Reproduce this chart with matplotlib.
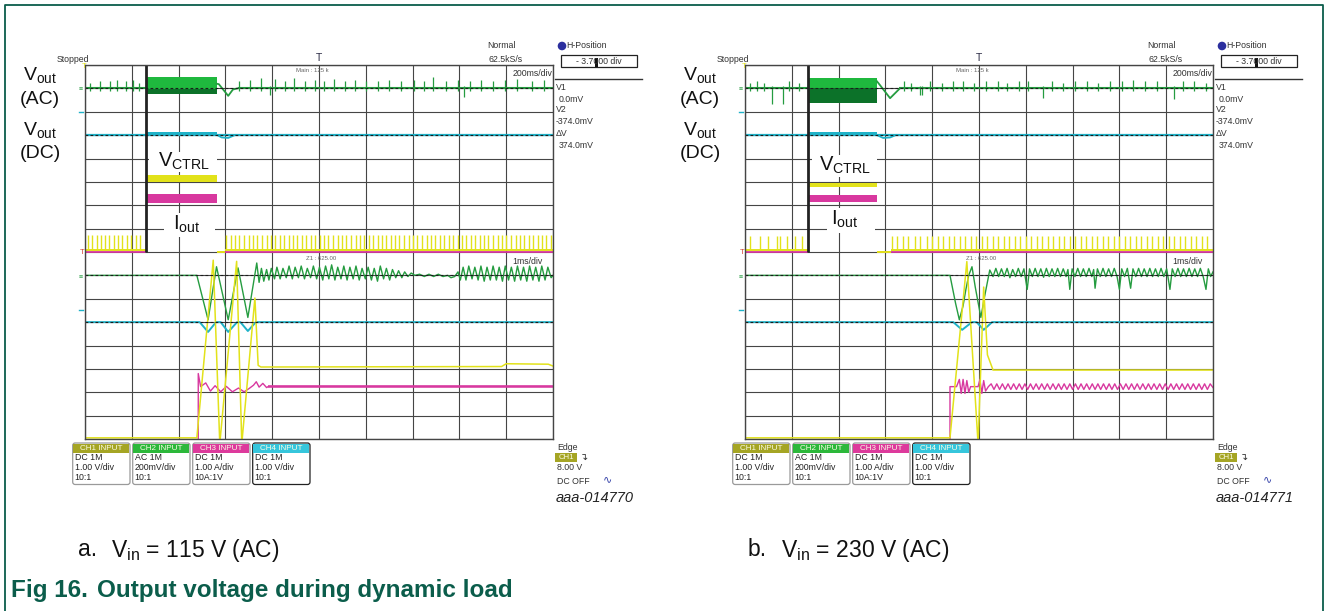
import matplotlib.pyplot as plt
from matplotlib.patches import Rectangle, FancyBboxPatch, Circle

plt.rcParams["font.family"] = ["Liberation Sans", "DejaVu Sans"]

W, H = 1328, 611

# ------------------------------------------------------------------
# data - scope screen in divisions: x 0..10, y 0..16 counted from top
# rows 0-8: main window (200 ms/div), rows 8-16: zoom window (1 ms/div)
# ------------------------------------------------------------------
panel_tags = ["a.", "b."]
vin_values = ["115", "230"]
chart_codes = ["aaa-014770", "aaa-014771"]

channel_names = ["CH1 INPUT", "CH2 INPUT", "CH3 INPUT", "CH4 INPUT"]
channel_coupling = ["DC 1M", "AC 1M", "DC 1M", "DC 1M"]
channel_scale = ["1.00 V/div", "200mV/div", "1.00 A/div", "1.00 V/div"]
channel_probe = ["10:1", "10:1", "10A:1V", "10:1"]

cursor_levels = [1, 3, 9, 11]
cursor_text = ["V1", "0.0mV", "V2", "-374.0mV", "\u0394V", "374.0mV"]

# ---- a. Vin = 115 V ----
a_load = [1.30, 2.81]
a_marker = 1.30
a_ac_base = 1.0
a_ac_band = [0.50, 1.02, 1.22]
a_ac_spike_x = [0.10, 0.33, 0.53, 0.69, 0.87, 1.03, 1.16,
                3.30, 3.53, 3.75, 3.95, 4.06, 4.28, 4.47, 4.70, 4.92, 5.10,
                5.32, 5.55, 5.77, 6.00, 6.25, 6.49, 6.75, 7.03, 7.25, 7.44,
                7.71, 7.98, 8.10, 8.22, 8.47, 8.72, 8.97, 9.24, 9.55, 9.80]
a_ac_spike_h = [0.25, 0.30, 0.30, 0.35, 0.30, 0.35, 0.25,
                0.30, 0.35, 0.45, -0.30, 0.40, 0.30, 0.45, 0.30, 0.35, 0.30,
                0.40, 0.30, 0.35, 0.30, 0.30, 0.35, 0.30, 0.35, 0.30, 0.50,
                0.30, 0.35, -0.35, 0.30, 0.35, 0.30, 0.35, 0.40, 0.30, 0.35]
a_ac_recover_x = [2.81, 2.86, 3.06, 3.16, 3.26]
a_ac_recover_y = [0.80, 0.82, 1.32, 1.05, 1.00]
a_dc_base = 3.0
a_dc_band = [2.86, 3.02]
a_dc_recover_x = [2.81, 2.92, 3.06, 3.20]
a_dc_recover_y = [2.98, 3.10, 3.12, 3.00]
a_ctrl_base = 7.90
a_ctrl_top = 7.28
a_ctrl_band = [4.70, 5.00]
a_ctrl_gap = [2.81, 3.00, 7.98]
a_ctrl_spike_x = [0.06, 0.15, 0.25, 0.34, 0.43, 0.52, 0.62, 0.71, 0.80, 0.90, 0.99, 1.08, 1.17,
                  3.02, 3.12, 3.21, 3.30, 3.40, 3.50, 3.59, 3.68, 3.78, 3.88, 3.97, 4.06,
                  4.16, 4.26, 4.35, 4.44, 4.54, 4.64, 4.73, 4.82, 4.92, 5.02, 5.11, 5.20,
                  5.30, 5.40, 5.49, 5.58, 5.68, 5.78, 5.87, 5.96, 6.06, 6.16, 6.25, 6.34,
                  6.44, 6.54, 6.63, 6.72, 6.82, 6.92, 7.01, 7.10, 7.20, 7.30, 7.39, 7.48,
                  7.58, 7.68, 7.77, 7.86, 7.96, 8.06, 8.15, 8.24, 8.34, 8.44, 8.53, 8.62,
                  8.72, 8.82, 8.91, 9.00, 9.10, 9.20, 9.29, 9.38, 9.48, 9.58, 9.67, 9.76,
                  9.86, 9.95]
a_iout_base = 7.98
a_iout_band = [5.50, 5.90]

a_zoom_ac = [(0.00, 9.00), (2.39, 9.00), (2.63, 10.90), (2.81, 8.63), (3.06, 10.90),
             (3.27, 8.68), (3.48, 10.80), (3.67, 8.47),
             (3.72, 9.30), (3.77, 8.70), (3.82, 9.25), (3.88, 8.75), (3.93, 9.20), (3.98, 8.70),
             (4.05, 9.15), (4.10, 8.65), (4.17, 9.15), (4.23, 8.70), (4.30, 9.10), (4.36, 8.60),
             (4.43, 9.15), (4.49, 8.65), (4.56, 9.10), (4.62, 8.60), (4.69, 9.15), (4.75, 8.70),
             (4.82, 9.10), (4.88, 8.60), (4.95, 9.15), (5.01, 8.65), (5.08, 9.20), (5.14, 8.60),
             (5.21, 9.15), (5.27, 8.55), (5.34, 9.20), (5.40, 8.65), (5.47, 9.15), (5.53, 8.60),
             (5.60, 9.20), (5.66, 8.65), (5.73, 9.15), (5.79, 8.60), (5.86, 9.20), (5.92, 8.70),
             (5.99, 9.15), (6.05, 8.65), (6.12, 9.20), (6.18, 8.70), (6.25, 9.25), (6.31, 8.60),
             (6.38, 9.15), (6.44, 8.70), (6.51, 9.20), (6.57, 8.75), (6.64, 9.10), (6.70, 8.80),
             (6.77, 9.10), (6.83, 8.85), (6.90, 9.05), (6.97, 8.90), (7.05, 9.00), (7.15, 8.95),
             (7.25, 9.05), (7.35, 8.95), (7.45, 9.05), (7.55, 8.95), (7.65, 9.05), (7.75, 9.00),
             (7.82, 9.10), (7.90, 9.05), (7.97, 8.85), (8.02, 9.20), (8.08, 8.65), (8.14, 9.20),
             (8.20, 8.60), (8.27, 9.15), (8.33, 8.65), (8.40, 9.20), (8.46, 8.60), (8.53, 9.25),
             (8.59, 8.65), (8.66, 9.20), (8.72, 8.60), (8.79, 9.20), (8.85, 8.65), (8.92, 9.25),
             (8.98, 8.60), (9.05, 9.20), (9.11, 8.65), (9.18, 9.25), (9.24, 8.60), (9.31, 9.20),
             (9.37, 8.65), (9.44, 9.25), (9.50, 8.60), (9.57, 9.20), (9.63, 8.65), (9.70, 9.25),
             (9.76, 8.60), (9.83, 9.20), (9.89, 8.65), (9.96, 9.10), (10.00, 9.00)]
a_zoom_dc = [(0.00, 11.0), (2.45, 11.0), (2.63, 11.42), (2.80, 11.0), (2.90, 11.0),
             (3.06, 11.42), (3.25, 11.0), (3.32, 11.0), (3.48, 11.38), (3.65, 11.0), (10.0, 11.0)]
a_zoom_ctrl = [(0.00, 15.95), (2.39, 15.95), (2.74, 8.35), (2.88, 16.2), (3.24, 8.40),
               (3.35, 16.2), (3.63, 9.97), (3.70, 12.85), (3.76, 12.92), (8.90, 12.90),
               (9.00, 12.78), (9.90, 12.80), (10.0, 12.88)]
a_zoom_iout = [(2.42, 16.0), (2.42, 13.20), (2.47, 13.76), (2.58, 13.60), (2.68, 13.95),
               (2.78, 13.72), (2.90, 13.98), (3.02, 13.75), (3.15, 13.98), (3.28, 13.82),
               (3.40, 13.98), (3.50, 13.85), (3.60, 13.70), (3.66, 13.55), (3.72, 13.78),
               (3.80, 13.62), (3.88, 13.80), (3.92, 13.75), (10.0, 13.75)]
a_zoom_iout_noise = [3.90, 10.0, 13.67, 13.83]

# ---- b. Vin = 230 V ----
b_load = [1.35, 2.82]
b_marker = 1.34
b_ac_base = 1.0
b_ac_band = [0.55, 1.00, 1.64]
b_ac_spike_x = [0.10, 0.25, 0.40, 0.57, 0.81, 0.95, 1.15,
                3.40, 3.55, 3.74, 3.78, 3.95, 4.20, 4.45, 4.65, 4.90, 5.15,
                5.40, 5.60, 5.85, 6.05, 6.37, 6.55, 6.80, 7.05, 7.30, 7.55,
                7.80, 8.05, 8.30, 8.55, 8.80, 9.16, 9.35, 9.60, 9.85]
b_ac_spike_h = [0.25, 0.30, 0.25, -0.68, -0.68, 0.30, 0.25,
                0.30, 0.25, -0.30, -0.30, 0.30, 0.25, 0.30, 0.30, 0.25, 0.30,
                0.30, 0.25, 0.30, 0.30, -0.40, 0.30, 0.25, 0.30, 0.30, 0.25,
                0.30, 0.30, 0.35, 0.30, 0.30, -0.45, 0.30, 0.30, 0.25]
b_ac_recover_x = [2.82, 2.88, 3.10, 3.30]
b_ac_recover_y = [0.70, 0.85, 1.42, 1.02]
b_dc_base = 3.0
b_dc_band = [2.85, 3.05]
b_dc_recover_x = [2.82, 2.95, 3.10, 3.22]
b_dc_recover_y = [3.00, 3.12, 3.10, 3.00]
b_ctrl_base = 7.90
b_ctrl_top = 7.30
b_ctrl_band = [5.03, 5.20]
b_ctrl_gap = [2.82, 3.12, 7.98]
b_ctrl_spike_x = [0.11, 0.32, 0.49, 0.68, 0.75, 0.90, 1.07, 1.22,
                  3.14, 3.25, 3.38, 3.48, 3.63, 3.74, 3.89, 4.00, 4.12, 4.24, 4.36, 4.47,
                  4.59, 4.71, 4.83, 4.94, 5.06, 5.18, 5.30, 5.41, 5.53, 5.65, 5.77, 5.88,
                  6.00, 6.12, 6.24, 6.35, 6.47, 6.59, 6.71, 6.82, 6.94, 7.06, 7.18, 7.29,
                  7.41, 7.53, 7.65, 7.76, 7.88, 8.00, 8.12, 8.23, 8.35, 8.47, 8.59, 8.70,
                  8.82, 8.94, 9.06, 9.17, 9.29, 9.41, 9.53, 9.64, 9.76, 9.88]
b_iout_base = 7.98
b_iout_band = [5.56, 5.88]

b_zoom_ac = [(0.00, 9.00), (4.38, 9.00), (4.50, 10.20), (4.58, 10.90), (4.66, 10.30),
             (4.72, 9.60), (4.78, 9.00), (4.85, 8.63), (4.92, 9.50), (5.04, 10.80),
             (5.12, 9.90), (5.23, 8.77), (5.30, 9.05),
             (5.36, 8.70), (5.42, 9.05), (5.48, 8.72), (5.54, 9.05), (5.60, 8.70), (5.66, 9.10),
             (5.72, 8.75), (5.78, 9.05), (5.84, 8.70), (5.90, 9.05), (5.96, 8.72), (6.03, 9.60),
             (6.08, 8.72), (6.14, 9.05), (6.20, 8.70), (6.26, 9.05), (6.32, 8.72), (6.38, 9.08),
             (6.44, 8.70), (6.50, 9.05), (6.56, 8.72), (6.62, 9.05), (6.68, 8.70), (6.74, 9.05),
             (6.80, 8.72), (6.86, 9.05), (6.90, 8.75), (6.94, 9.60), (6.99, 8.72), (7.05, 9.05),
             (7.11, 8.70), (7.17, 9.05), (7.23, 8.72), (7.29, 9.05), (7.35, 8.70), (7.41, 9.05),
             (7.45, 8.75), (7.48, 9.55), (7.53, 8.72), (7.59, 9.05), (7.65, 8.70), (7.71, 9.05),
             (7.77, 8.72), (7.83, 9.05), (7.89, 8.70), (7.95, 9.05), (8.00, 9.60), (8.05, 8.72),
             (8.11, 9.05), (8.17, 8.70), (8.24, 9.55), (8.29, 8.72), (8.35, 9.05), (8.41, 8.70),
             (8.47, 9.05), (8.53, 8.72), (8.59, 9.05), (8.65, 8.70), (8.71, 9.05), (8.77, 8.72),
             (8.83, 9.05), (8.89, 8.70), (8.95, 9.05), (9.01, 8.72), (9.08, 9.60), (9.13, 8.72),
             (9.19, 9.05), (9.25, 8.70), (9.31, 9.05), (9.37, 8.72), (9.43, 9.05), (9.49, 8.70),
             (9.55, 9.05), (9.61, 8.72), (9.67, 9.05), (9.73, 8.70), (9.79, 9.05), (9.85, 9.60),
             (9.90, 8.72), (9.95, 9.05), (10.0, 8.85)]
b_zoom_dc = [(0.00, 11.0), (4.45, 11.0), (4.64, 11.33), (4.85, 11.0), (4.95, 11.0),
             (5.10, 11.33), (5.28, 11.0), (10.0, 11.0)]
b_zoom_ctrl = [(0.00, 15.95), (4.38, 15.95), (4.74, 8.41), (4.98, 16.2), (5.10, 9.50),
               (5.18, 12.40), (5.30, 13.05), (10.0, 13.05)]
b_zoom_iout = [(4.38, 16.0), (4.38, 13.76), (4.52, 13.76), (4.58, 13.45), (4.62, 14.05),
               (4.66, 13.45), (4.70, 14.05), (4.74, 13.50), (4.78, 14.00), (4.82, 13.76),
               (4.98, 13.76), (5.02, 13.45), (5.06, 14.05), (5.10, 13.50), (5.14, 13.95),
               (5.20, 13.76),
               (5.26, 13.64), (5.32, 13.88), (5.38, 13.64), (5.44, 13.88), (5.50, 13.64),
               (5.56, 13.88), (5.62, 13.64), (5.68, 13.88), (5.74, 13.64), (5.80, 13.88),
               (5.86, 13.64), (5.92, 13.88), (5.98, 13.64), (6.04, 13.88), (6.10, 13.64),
               (6.16, 13.88), (6.22, 13.64), (6.28, 13.88), (6.34, 13.64), (6.40, 13.88),
               (6.46, 13.64), (6.52, 13.88), (6.58, 13.64), (6.64, 13.88), (6.70, 13.64),
               (6.76, 13.88), (6.82, 13.64), (6.88, 13.88), (6.94, 13.64), (7.00, 13.88),
               (7.06, 13.64), (7.12, 13.88), (7.18, 13.64), (7.24, 13.88), (7.30, 13.64),
               (7.36, 13.88), (7.42, 13.64), (7.48, 13.88), (7.54, 13.64), (7.60, 13.88),
               (7.66, 13.64), (7.72, 13.88), (7.78, 13.64), (7.84, 13.88), (7.90, 13.64),
               (7.96, 13.88), (8.02, 13.64), (8.08, 13.88), (8.14, 13.64), (8.20, 13.88),
               (8.26, 13.64), (8.32, 13.88), (8.38, 13.64), (8.44, 13.88), (8.50, 13.64),
               (8.56, 13.88), (8.62, 13.64), (8.68, 13.88), (8.74, 13.64), (8.80, 13.88),
               (8.86, 13.64), (8.92, 13.88), (8.98, 13.64), (9.04, 13.88), (9.10, 13.64),
               (9.16, 13.88), (9.22, 13.64), (9.28, 13.88), (9.34, 13.64), (9.40, 13.88),
               (9.46, 13.64), (9.52, 13.88), (9.58, 13.64), (9.64, 13.88), (9.70, 13.64),
               (9.76, 13.88), (9.82, 13.64), (9.88, 13.88), (9.94, 13.64), (10.0, 13.80)]
b_zoom_iout_noise = None

# ------------------------------------------------------------------
# style / layout
# ------------------------------------------------------------------
YEL = "#e2e21a"
GRN = "#259c40"
GRN_BAND = "#1fb83e"
GRN_DARK = "#0c7229"
CYA = "#1fb2c8"
MAG = "#d8389f"
GRID = "#454545"
TXT = "#333333"
NXP = "#0b5d4b"
HEAD_COLORS = ["#a5a524", "#2cb83a", "#dd3a9c", "#36c6dc"]

GRID_X = [85, 745]          # left edge of each scope graticule (px)
GRID_TOP, GRID_W, GRID_H = 65, 468, 374

panels = [
    dict(load=a_load, marker=a_marker, ac_base=a_ac_base, ac_band=a_ac_band,
         ac_sx=a_ac_spike_x, ac_sh=a_ac_spike_h, ac_rx=a_ac_recover_x, ac_ry=a_ac_recover_y,
         dc_base=a_dc_base, dc_band=a_dc_band, dc_rx=a_dc_recover_x, dc_ry=a_dc_recover_y,
         ctrl_base=a_ctrl_base, ctrl_top=a_ctrl_top, ctrl_band=a_ctrl_band, ctrl_gap=a_ctrl_gap,
         ctrl_sx=a_ctrl_spike_x, iout_base=a_iout_base, iout_band=a_iout_band,
         z_ac=a_zoom_ac, z_dc=a_zoom_dc, z_ctrl=a_zoom_ctrl, z_iout=a_zoom_iout,
         z_noise=a_zoom_iout_noise,
         vctrl_box=(1.37, 3.72, 1.45, 0.86), vctrl_txt=(2.12, 4.12),
         iout_box=(1.69, 6.33, 1.09, 1.03), iout_txt=(2.18, 6.80)),
    dict(load=b_load, marker=b_marker, ac_base=b_ac_base, ac_band=b_ac_band,
         ac_sx=b_ac_spike_x, ac_sh=b_ac_spike_h, ac_rx=b_ac_recover_x, ac_ry=b_ac_recover_y,
         dc_base=b_dc_base, dc_band=b_dc_band, dc_rx=b_dc_recover_x, dc_ry=b_dc_recover_y,
         ctrl_base=b_ctrl_base, ctrl_top=b_ctrl_top, ctrl_band=b_ctrl_band, ctrl_gap=b_ctrl_gap,
         ctrl_sx=b_ctrl_spike_x, iout_base=b_iout_base, iout_band=b_iout_band,
         z_ac=b_zoom_ac, z_dc=b_zoom_dc, z_ctrl=b_zoom_ctrl, z_iout=b_zoom_iout,
         z_noise=b_zoom_iout_noise,
         vctrl_box=(1.43, 3.85, 1.38, 0.93), vctrl_txt=(2.13, 4.30),
         iout_box=(1.75, 6.12, 1.03, 1.07), iout_txt=(2.13, 6.62)),
]

fig = plt.figure(figsize=(W / 100, H / 100), dpi=100)

# overlay axes in pixel units for all the screen / page furniture
ov = fig.add_axes([0, 0, 1, 1])
ov.set_xlim(0, W)
ov.set_ylim(H, 0)
ov.axis("off")
ov.set_zorder(5)


def draw_scope(gx, p):
    ax = fig.add_axes([gx / W, 1 - (GRID_TOP + GRID_H) / H, GRID_W / W, GRID_H / H])
    ax.set_xlim(0, 10)
    ax.set_ylim(16, 0)
    ax.set_xticks(range(11))
    ax.set_yticks(range(17))
    ax.tick_params(length=0, labelbottom=False, labelleft=False)
    ax.grid(True, color=GRID, lw=0.8)
    for s in ax.spines.values():
        s.set_color(GRID)
        s.set_linewidth(1.0)

    x0, x1 = p["load"]

    # --- main window ---
    # Iout (magenta)
    ax.hlines([p["iout_base"]] * 2, [0, x1], [x0, 10], color=MAG, lw=1.3, zorder=2)
    ax.fill_between([x0, x1], p["iout_band"][0], p["iout_band"][1], color=MAG, lw=0, zorder=2)
    # Vctrl (yellow)
    g0, g1, gy = p["ctrl_gap"]
    ax.hlines([p["ctrl_base"]] * 2, [0, g1], [x0, 10], color=YEL, lw=1.4, zorder=2.1)
    ax.hlines(gy, g0, g1, color=YEL, lw=1.4, zorder=2.1)
    ax.vlines(p["ctrl_sx"], p["ctrl_top"], p["ctrl_base"], color=YEL, lw=1.0, zorder=2.1)
    ax.fill_between([x0, x1], p["ctrl_band"][0], p["ctrl_band"][1], color=YEL, lw=0, zorder=2)
    # Vout DC (cyan)
    ax.hlines(p["dc_base"], 0, 10, color=CYA, lw=1.6, zorder=2)
    ax.fill_between([x0, x1], p["dc_band"][0], p["dc_band"][1], color=CYA, lw=0, zorder=2)
    ax.plot(p["dc_rx"], p["dc_ry"], color=CYA, lw=1.3, zorder=2)
    # Vout AC (green)
    ax.hlines([p["ac_base"]] * 2, [0, p["ac_rx"][-1]], [x0, 10], color=GRN, lw=1.5, zorder=2)
    lo = [p["ac_base"] - h if h > 0 else p["ac_base"] - 0.1 for h in p["ac_sh"]]
    hi = [p["ac_base"] + 0.12 if h > 0 else p["ac_base"] - h for h in p["ac_sh"]]
    ax.vlines(p["ac_sx"], lo, hi, color=GRN, lw=0.9, zorder=2)
    ax.fill_between([x0, x1], p["ac_band"][0], p["ac_band"][1], color=GRN_BAND, lw=0, zorder=2)
    ax.fill_between([x0, x1], p["ac_band"][1], p["ac_band"][2], color=GRN_DARK, lw=0, zorder=2)
    ax.plot(p["ac_rx"], p["ac_ry"], color=GRN, lw=1.3, zorder=2)

    # zoom position marker
    ax.vlines(p["marker"], 0, 8, color="#222222", lw=2.0, zorder=2.2)

    # --- zoom window ---
    if p["z_noise"] is not None:
        n0, n1, nlo, nhi = p["z_noise"]
        ax.fill_between([n0, n1], nlo, nhi, color=MAG, alpha=0.75, lw=0, zorder=2)
    ix, iy = zip(*p["z_iout"])
    ax.plot(ix, iy, color=MAG, lw=1.0, zorder=2)
    dx, dy = zip(*p["z_dc"])
    ax.plot(dx, dy, color=CYA, lw=1.4, zorder=2)
    gx_, gy_ = zip(*p["z_ac"])
    ax.plot(gx_, gy_, color=GRN, lw=1.0, zorder=2.1)
    cx, cy = zip(*p["z_ctrl"])
    ax.plot(cx, cy, color=YEL, lw=1.1, zorder=2.2)

    # cursor lines
    ax.hlines(cursor_levels, 0, 10, colors="#1c1c1c", lw=0.8,
              linestyles=(0, (2.5, 2.0)), zorder=2.5)

    # labels with white background
    bx, by, bw, bh = p["vctrl_box"]
    ax.add_patch(Rectangle((bx, by), bw, bh, fc="white", ec="none", zorder=2.6))
    ax.text(*p["vctrl_txt"], r"V$_\mathregular{CTRL}$", fontsize=14.5, ha="center",
            va="center", color="#111111", zorder=3)
    bx, by, bw, bh = p["iout_box"]
    ax.add_patch(Rectangle((bx, by), bw, bh, fc="white", ec="none", zorder=2.6))
    ax.text(*p["iout_txt"], r"I$_\mathregular{out}$", fontsize=14.5, ha="center",
            va="center", color="#111111", zorder=3)
    return ax


def draw_furniture(gx, code):
    s = dict(fontsize=6.3, color=TXT, va="center")
    ov.text(gx - 28, 59, "Stopped", ha="left", **s)
    ov.text(gx + 234, 58, "T", ha="center", fontsize=7.5, color="#2a2a44", va="center")
    ov.text(gx + 227, 71, "Main : 125 k", ha="center", fontsize=4.3, color="#666666", va="center")
    ov.text(gx + 416, 46, "Normal", ha="center", **s)
    ov.text(gx + 421, 59, "62.5kS/s", ha="center", **s)
    ov.text(gx + 467, 73, "200ms/div", ha="right", **s)
    ov.text(gx + 236, 258, "Z1 : 625.00", ha="center", fontsize=4.3, color="#666666", va="center")
    ov.text(gx + 458, 261, "1ms/div", ha="right", **s)

    # H-position box
    ov.add_patch(Circle((gx + 477, 46), 3.6, color="#2b2f9e"))
    ov.text(gx + 481, 46, "H-Position", ha="left", **s)
    ov.add_patch(Rectangle((gx + 476, 54.5), 76, 12.5, fc="white", ec="#222222", lw=0.9))
    ov.text(gx + 514, 61, "- 3.7000 div", ha="center", **s)
    ov.add_patch(Rectangle((gx + 509.5, 58), 3.2, 8.5, fc="#111111", ec="none"))
    ov.plot([gx + 470, gx + 557], [78.5, 78.5], color="#333333", lw=1.0)

    # cursor readout
    rows = [87, 99, 109, 121, 133, 146]
    for txt, yy, ind in zip(cursor_text, rows, [0, 3, 0, 0, 0, 3]):
        ov.text(gx + 471 + ind, yy, txt, ha="left", **s)

    # left channel markers
    ov.plot([gx - 6, gx - 2], [112, 112], color=CYA, lw=1.0)
    ov.plot([gx - 6, gx - 2], [310, 310], color=CYA, lw=1.0)
    ov.text(gx - 4, 89, "\u2261", ha="center", va="center", fontsize=5, color=GRN)
    ov.text(gx - 4, 277, "\u2261", ha="center", va="center", fontsize=5, color=GRN)
    ov.text(gx - 3, 253, "T", ha="center", va="center", fontsize=5.5, color="#d04030")
    ov.text(gx - 1, 67, "T", ha="center", va="center", fontsize=5.5, color=YEL)

    # channel boxes
    for i in range(4):
        bx = gx - 12.3 + i * 60
        ov.add_patch(FancyBboxPatch((bx, 443), 57.3, 41.5,
                                    boxstyle="round,pad=0,rounding_size=2.5",
                                    fc="white", ec="#222222" if i == 3 else "#9a9a9a", lw=0.9))
        ov.add_patch(Rectangle((bx + 0.6, 443.6), 56.1, 9.2, fc=HEAD_COLORS[i], ec="none"))
        ov.text(bx + 28.6, 448.3, channel_names[i], ha="center", va="center",
                fontsize=5.9, color="#fbfbe6")
        for j, t in enumerate([channel_coupling[i], channel_scale[i], channel_probe[i]]):
            ov.text(bx + 2, 457.5 + j * 10, t, ha="left", va="center", fontsize=6.3,
                    color="#222222")

    # trigger block
    ov.text(gx + 472, 447, "Edge", ha="left", **s)
    ov.add_patch(Rectangle((gx + 470, 453), 22, 8.5, fc=HEAD_COLORS[0], ec="none"))
    ov.text(gx + 481, 457.3, "CH1", ha="center", va="center", fontsize=5.6, color="#fbfbe6")
    ov.text(gx + 499, 457, "\u21b4", ha="center", va="center", fontsize=7, color="#333333",
            family="DejaVu Sans")
    ov.text(gx + 472, 468, "8.00 V", ha="left", **s)
    ov.text(gx + 472, 481, "DC OFF", ha="left", **s)
    ov.text(gx + 523, 479, "\u223f", ha="center", va="center", fontsize=8, color="#3340a8",
            family="DejaVu Sans")
    ov.text(gx + 510, 497.5, code, ha="center", va="center", fontsize=10.5,
            style="italic", color="#222222")

    # channel names on the left
    lab = dict(fontsize=14, ha="center", va="center", color="#111111")
    ov.text(gx - 45, 76, r"V$_\mathregular{out}$", **lab)
    ov.text(gx - 45, 99, "(AC)", **lab)
    ov.text(gx - 45, 131, r"V$_\mathregular{out}$", **lab)
    ov.text(gx - 45, 154, "(DC)", **lab)


for gx, p, code in zip(GRID_X, panels, chart_codes):
    draw_scope(gx, p)
    draw_furniture(gx, code)

# sub captions
for tx, tag, vin in zip([78, 748], panel_tags, vin_values):
    ov.text(tx, 550, tag, ha="left", va="center", fontsize=16.5, color="#111111")
    ov.text(tx + 33, 550, "V$_\\mathregular{in}$ = " + vin + " V (AC)", ha="left",
            va="center", fontsize=16.5, color="#111111")

ov.text(11, 591, "Fig 16.", ha="left", va="center", fontsize=17.5, fontweight="bold", color=NXP)
ov.text(97, 591, "Output voltage during dynamic load", ha="left", va="center",
        fontsize=17.5, fontweight="bold", color=NXP)

# page frame
ov.plot([5, 5, 1323, 1323], [H, 5, 5, H], color=NXP, lw=1.3)

fig.savefig("out.png", dpi=100)
